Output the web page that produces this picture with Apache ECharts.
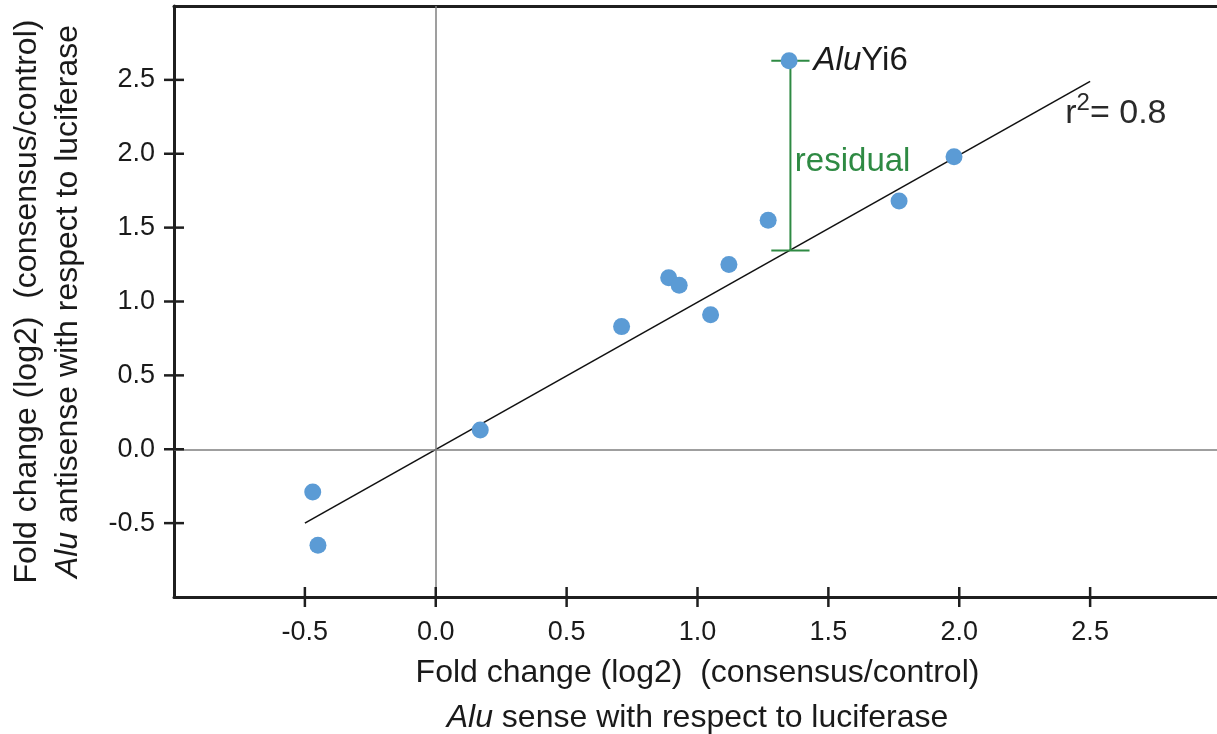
<!DOCTYPE html>
<html>
<head>
<meta charset="utf-8">
<script src="https://cdn.jsdelivr.net/npm/echarts@6/dist/echarts.min.js"></script>
<style>
  html, body { margin: 0; padding: 0; background: #fff; }
  #chart { width: 1217px; height: 734px; }
</style>
</head>
<body>
<div id="chart"></div>
<script>
const FONT = "'Liberation Sans', Arial, sans-serif"
const COLORS = {
  point: '#5b9bd5',
  axis: '#1f1f1f',
  zero: '#7f7f7f',
  fit: '#111111',
  residual: '#2e8a43',
  text: '#1a1a1a',
}

// sense (x) vs antisense (y) fold changes, log2
const senseFC = [-0.47, -0.45, 0.17, 0.71, 0.89, 0.93, 1.05, 1.12, 1.27, 1.35, 1.77, 1.98]
const antisenseFC = [-0.29, -0.65, 0.13, 0.83, 1.16, 1.11, 0.91, 1.25, 1.55, 2.63, 1.68, 1.98]
const pointNames = ['', '', '', '', '', '', '', '', '', 'AluYi6', '', '']

const tickValues = [-0.5, 0, 0.5, 1, 1.5, 2, 2.5]
const axisMin = -1
const axisMax = 3

// fitted line end points
const fitX = [-0.5, 2.5]
const fitY = [-0.5, 2.49]

// residual of AluYi6 to the fit
const residualX = 1.355
const residualTop = 2.63
const residualBottom = 1.345
const capHalf = 0.073

const chart = echarts.init(document.getElementById('chart'))

const tickLabel = v => v.toFixed(1)
const TICK_HALF = 10

const baseAxis = {
  type: 'value', min: axisMin, max: axisMax, interval: 0.5,
  splitLine: { show: false },
  axisTick: { show: false },
}
const titleRich = (lh) => ({
  n: { fontSize: 32, color: COLORS.text, fontFamily: FONT, lineHeight: lh },
  i: { fontSize: 32, color: COLORS.text, fontFamily: FONT, fontStyle: 'italic', lineHeight: lh },
})

// ticks that cross the axis line (half inside, half outside)
const tickStyle = { stroke: COLORS.axis, lineWidth: 2.5 }
function renderXTick(params, api) {
  const p = api.coord([api.value(0), api.value(1)])
  return { type: 'line', shape: { x1: p[0], y1: p[1] - TICK_HALF, x2: p[0], y2: p[1] + TICK_HALF }, style: tickStyle }
}
function renderYTick(params, api) {
  const p = api.coord([api.value(0), api.value(1)])
  return { type: 'line', shape: { x1: p[0] - TICK_HALF, y1: p[1], x2: p[0] + TICK_HALF, y2: p[1] }, style: tickStyle }
}

chart.setOption({
  animation: false,
  textStyle: { fontFamily: FONT },
  grid: { left: 174, right: -4, top: 6, bottom: 137, containLabel: false, outerBoundsMode: 'none' },
  xAxis: [
    {
      ...baseAxis,
      position: 'bottom',
      axisLine: { onZero: false, lineStyle: { color: COLORS.axis, width: 3 } },
      axisLabel: { customValues: tickValues, formatter: tickLabel, fontSize: 27, color: COLORS.text, margin: 22, fontFamily: FONT },
      name: '{n|Fold change (log2)  (consensus/control)}\n{i|Alu}{n| sense with respect to luciferase}',
      nameLocation: 'middle',
      nameGap: 51,
      nameTextStyle: { lineHeight: 45, rich: titleRich(45) },
    },
    {
      ...baseAxis,
      position: 'top',
      axisLine: { onZero: false, lineStyle: { color: COLORS.axis, width: 3 } },
      axisLabel: { show: false },
    },
  ],
  yAxis: [
    {
      ...baseAxis,
      position: 'left',
      axisLine: { onZero: false, lineStyle: { color: COLORS.axis, width: 3 } },
      axisLabel: { customValues: tickValues, formatter: tickLabel, fontSize: 27, color: COLORS.text, margin: 19, fontFamily: FONT },
      name: '{n|Fold change (log2)  (consensus/control)}\n{i|Alu}{n| antisense with respect to luciferase}',
      nameLocation: 'middle',
      nameRotate: 90,
      nameGap: 85,
      nameTextStyle: { lineHeight: 41, rich: titleRich(41) },
    },
  ],
  series: [
    {
      // zero reference lines
      type: 'line',
      data: [],
      silent: true,
      markLine: {
        symbol: 'none',
        silent: true,
        label: { show: false },
        lineStyle: { color: COLORS.zero, width: 1.5, type: 'solid' },
        data: [{ xAxis: 0 }, { yAxis: 0 }],
      },
    },
    {
      type: 'custom',
      silent: true,
      clip: false,
      z: 6,
      renderItem: renderXTick,
      data: tickValues.map(v => [v, axisMin]),
    },
    {
      type: 'custom',
      silent: true,
      clip: false,
      z: 6,
      renderItem: renderYTick,
      data: tickValues.map(v => [axisMin, v]),
    },
    {
      type: 'line',
      data: fitX.map((x, i) => [x, fitY[i]]),
      symbol: 'none',
      lineStyle: { color: COLORS.fit, width: 1.6 },
      z: 3,
    },
    {
      type: 'line',
      data: [[residualX, residualTop], [residualX, residualBottom]],
      symbol: 'none',
      lineStyle: { color: COLORS.residual, width: 2 },
      z: 3,
    },
    {
      type: 'line',
      data: [[residualX - capHalf, residualTop], [residualX + capHalf, residualTop]],
      symbol: 'none',
      lineStyle: { color: COLORS.residual, width: 2 },
      z: 3,
    },
    {
      type: 'line',
      data: [[residualX - capHalf, residualBottom], [residualX + capHalf, residualBottom]],
      symbol: 'none',
      lineStyle: { color: COLORS.residual, width: 2 },
      z: 3,
    },
    {
      type: 'scatter',
      symbolSize: 17,
      itemStyle: { color: COLORS.point, opacity: 1 },
      z: 4,
      data: senseFC.map((x, i) => ({
        value: [x, antisenseFC[i]],
        label: pointNames[i] ? {
          show: true,
          position: 'right',
          distance: 16,
          formatter: '{i|Alu}{n|Yi6}',
          rich: {
            i: { fontSize: 33, fontStyle: 'italic', color: COLORS.text, fontFamily: FONT },
            n: { fontSize: 33, color: COLORS.text, fontFamily: FONT },
          },
        } : { show: false },
      })),
    },
    {
      // text annotations
      type: 'scatter',
      symbolSize: 0,
      silent: true,
      itemStyle: { opacity: 1 },
      z: 5,
      data: [
        {
          value: [1.372, 1.945],
          label: {
            show: true, position: 'right', distance: 0,
            formatter: 'residual',
            fontSize: 33, color: COLORS.residual, fontFamily: FONT,
          },
        },
        {
          value: [2.405, 2.29],
          label: {
            show: true, position: 'right', distance: 0,
            formatter: '{n|r}{s|2}{n|= 0.8}',
            rich: {
              n: { fontSize: 34, color: '#2a2a2a', fontFamily: FONT, lineHeight: 40, verticalAlign: 'bottom' },
              s: { fontSize: 24, color: '#2a2a2a', fontFamily: FONT, lineHeight: 40, verticalAlign: 'top' },
            },
          },
        },
      ],
    },
  ],
})
</script>
</body>
</html>
